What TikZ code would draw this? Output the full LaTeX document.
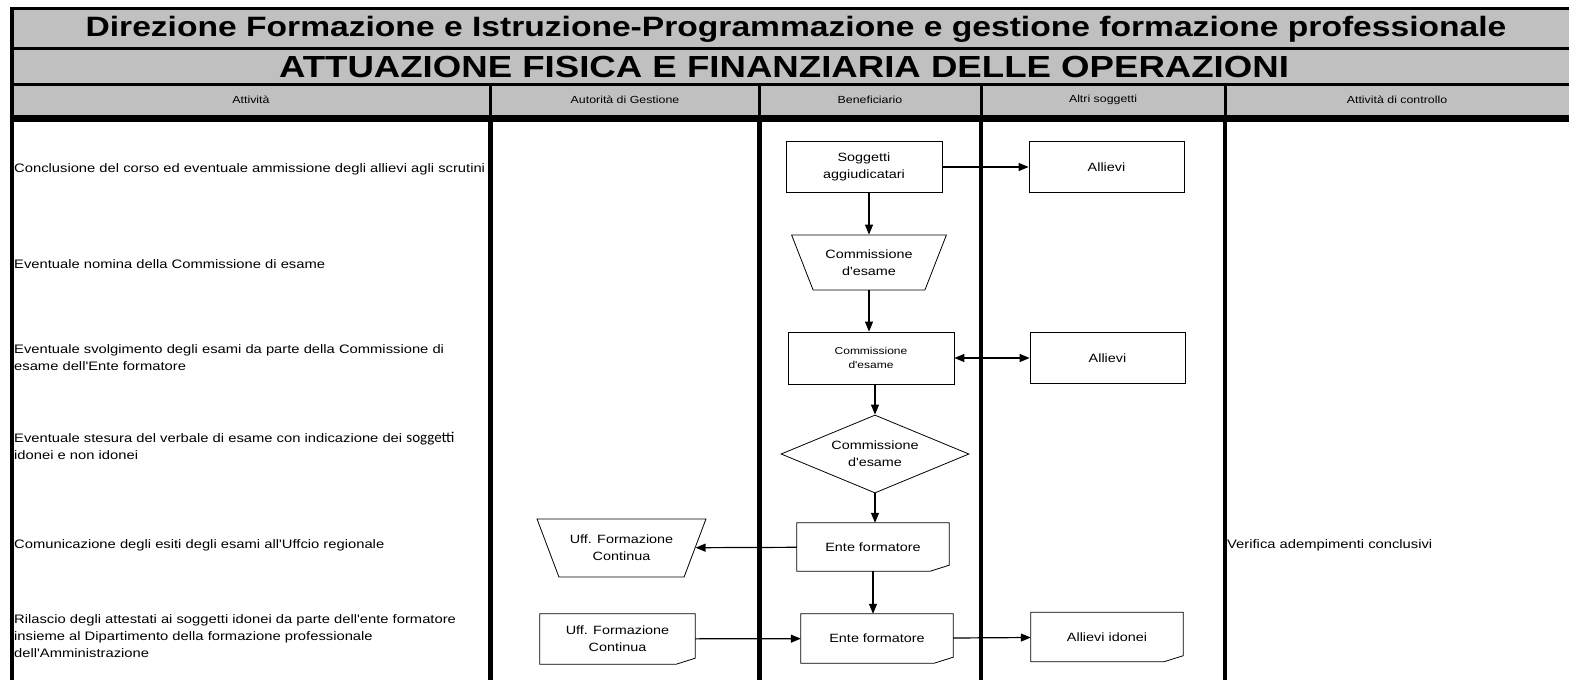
\documentclass[tikz,border=0pt]{standalone}
\usepackage{fontspec}
\setmainfont{Liberation Sans}
\newfontfamily\widefont{Liberation Sans}[FakeStretch=1.2]
\newfontfamily\calfont{Carlito}
\usetikzlibrary{arrows.meta,shapes.geometric}
\definecolor{hdrgray}{HTML}{C0C0C0}

\begin{document}
\begin{tikzpicture}[x=1pt, y=-1pt, >={Triangle[length=10pt,width=8pt]},
    every node/.style={font=\widefont\fontsize{12}{17}\selectfont, inner sep=0pt},
    lane/.style={line width=4.5pt, black},
    flow/.style={->, line width=1.2pt},
    shapeline/.style={draw, line width=0.8pt},
    procbox/.style={shapeline, align=center},
    manop/.style={shapeline, align=center, trapezium, trapezium stretches=true, shape border rotate=180},
    decision/.style={shapeline, align=center, diamond},
    docbox/.style={align=center},
    rowtext/.style={anchor=west, align=left, font=\widefont\fontsize{12.3}{17}\selectfont},
    colhead/.style={font=\widefont\fontsize{10.3}{13}\selectfont}]
    \useasboundingbox (0,0) rectangle (1569,680);
    % header band
    \fill[hdrgray] (12,8) rectangle (1569,115);
    \draw[line width=3pt] (10,8.5) -- (1569,8.5);
    \draw[line width=3pt] (12,48.5) -- (1569,48.5);
    \draw[line width=3pt] (12,84) -- (1569,84);
    \fill (10,115) rectangle (1569,122);
    \draw[line width=4pt] (12,7) -- (12,680);
    \node[font=\widefont\bfseries\fontsize{28}{30}\selectfont] (title) at (796,29) {Direzione Formazione e Istruzione-Programmazione e gestione formazione professionale};
    \node[font=\widefont\bfseries\fontsize{30.5}{32}\selectfont] (subtitle) at (784,67) {ATTUAZIONE FISICA E FINANZIARIA DELLE OPERAZIONI};
    % lanes
    \foreach \x in {490.5,759.5,981,1225} {
        \draw[line width=3pt] (\x,85) -- (\x,115);
        \draw[lane] (\x,115) -- (\x,680);
    }
    \node[colhead] (hAtt) at (251,100) {Attività};
    \node[colhead] (hAdg) at (625,100) {Autorità di Gestione};
    \node[colhead] (hBen) at (870,100) {Beneficiario};
    \node[colhead] (hAltri) at (1103,100) {Altri soggetti};
    \node[colhead] (hCtrl) at (1397,100) {Attività di controllo};
    % activities
    \node[rowtext] (r1) at (14,169) {Conclusione del corso ed eventuale ammissione degli allievi agli scrutini};
    \node[rowtext] (r2) at (14,264) {Eventuale nomina della Commissione di esame};
    \node[rowtext] (r3) at (14,357.5) {Eventuale svolgimento degli esami da parte della Commissione di\\esame dell'Ente formatore};
    \node[rowtext] (r4) at (14,445.5) {Eventuale stesura del verbale di esame con indicazione dei {\calfont\fontsize{15}{17}\selectfont soggetti}\\idonei e non idonei};
    \node[rowtext] (r5) at (14,545) {Comunicazione degli esiti degli esami all'Uffcio regionale};
    \node[rowtext] (r6) at (14,636) {Rilascio degli attestati ai soggetti idonei da parte dell'ente formatore\\insieme al Dipartimento della formazione professionale\\dell'Amministrazione};
    \node[rowtext] (ctrl) at (1227,545) {Verifica adempimenti conclusivi};
    % flow
    \node[procbox, minimum width=156, minimum height=51] (sogg) at (864,167) {Soggetti\\aggiudicatari};
    \node[procbox, minimum width=155, minimum height=51] (allievi1) at (1106.5,167) {Allievi};
    \node[manop, minimum width=155, minimum height=55, trapezium left angle=57, trapezium right angle=57] (commA) at (869,262.5) {Commissione\\d'esame};
    \node[procbox, minimum width=166, minimum height=52, font=\widefont\fontsize{10}{14}\selectfont] (commB) at (871,358) {Commissione\\d'esame};
    \node[procbox, minimum width=155, minimum height=51] (allievi2) at (1107.5,358) {Allievi};
    \node[decision, minimum width=188, minimum height=78, aspect=2.4] (commC) at (875,454) {Commissione\\d'esame};
    \node[docbox, minimum width=152, minimum height=48] (ente1) at (873,547) {Ente formatore};
    \node[manop, minimum width=169, minimum height=58, trapezium left angle=55, trapezium right angle=55] (uffA) at (621.5,548) {Uff. Formazione\\Continua};
    \node[docbox, minimum width=152, minimum height=49] (ente2) at (877,638.5) {Ente formatore};
    \node[docbox, minimum width=155, minimum height=50] (uffB) at (617.5,639) {Uff. Formazione\\Continua};
    \node[docbox, minimum width=152, minimum height=49] (idonei) at (1107,637) {Allievi idonei};
    \foreach \n in {ente1,ente2,uffB,idonei}
        \draw[shapeline] (\n.north west) -- (\n.north east) -- ([yshift=6pt]\n.south east) -- ([xshift=-19pt]\n.south east) -- (\n.south west) -- cycle;
    \draw[flow] (sogg) -- (allievi1);
    \draw[flow] (sogg.south -| commA.north) -- (commA.north);
    \draw[flow] (commA.south) -- (commA.south |- commB.north);
    \draw[flow, <->] (commB) -- (allievi2);
    \draw[flow] (commB.south -| commC.north) -- (commC.north);
    \draw[flow] (commC.south) -- (commC.south |- ente1.north);
    \draw[flow] (ente1) -- (uffA);
    \draw[flow] (ente1.south) -- (ente1.south |- ente2.north);
    \draw[flow] (uffB) -- (ente2);
    \draw[flow] (ente2) -- (idonei);
\end{tikzpicture}
\end{document}
